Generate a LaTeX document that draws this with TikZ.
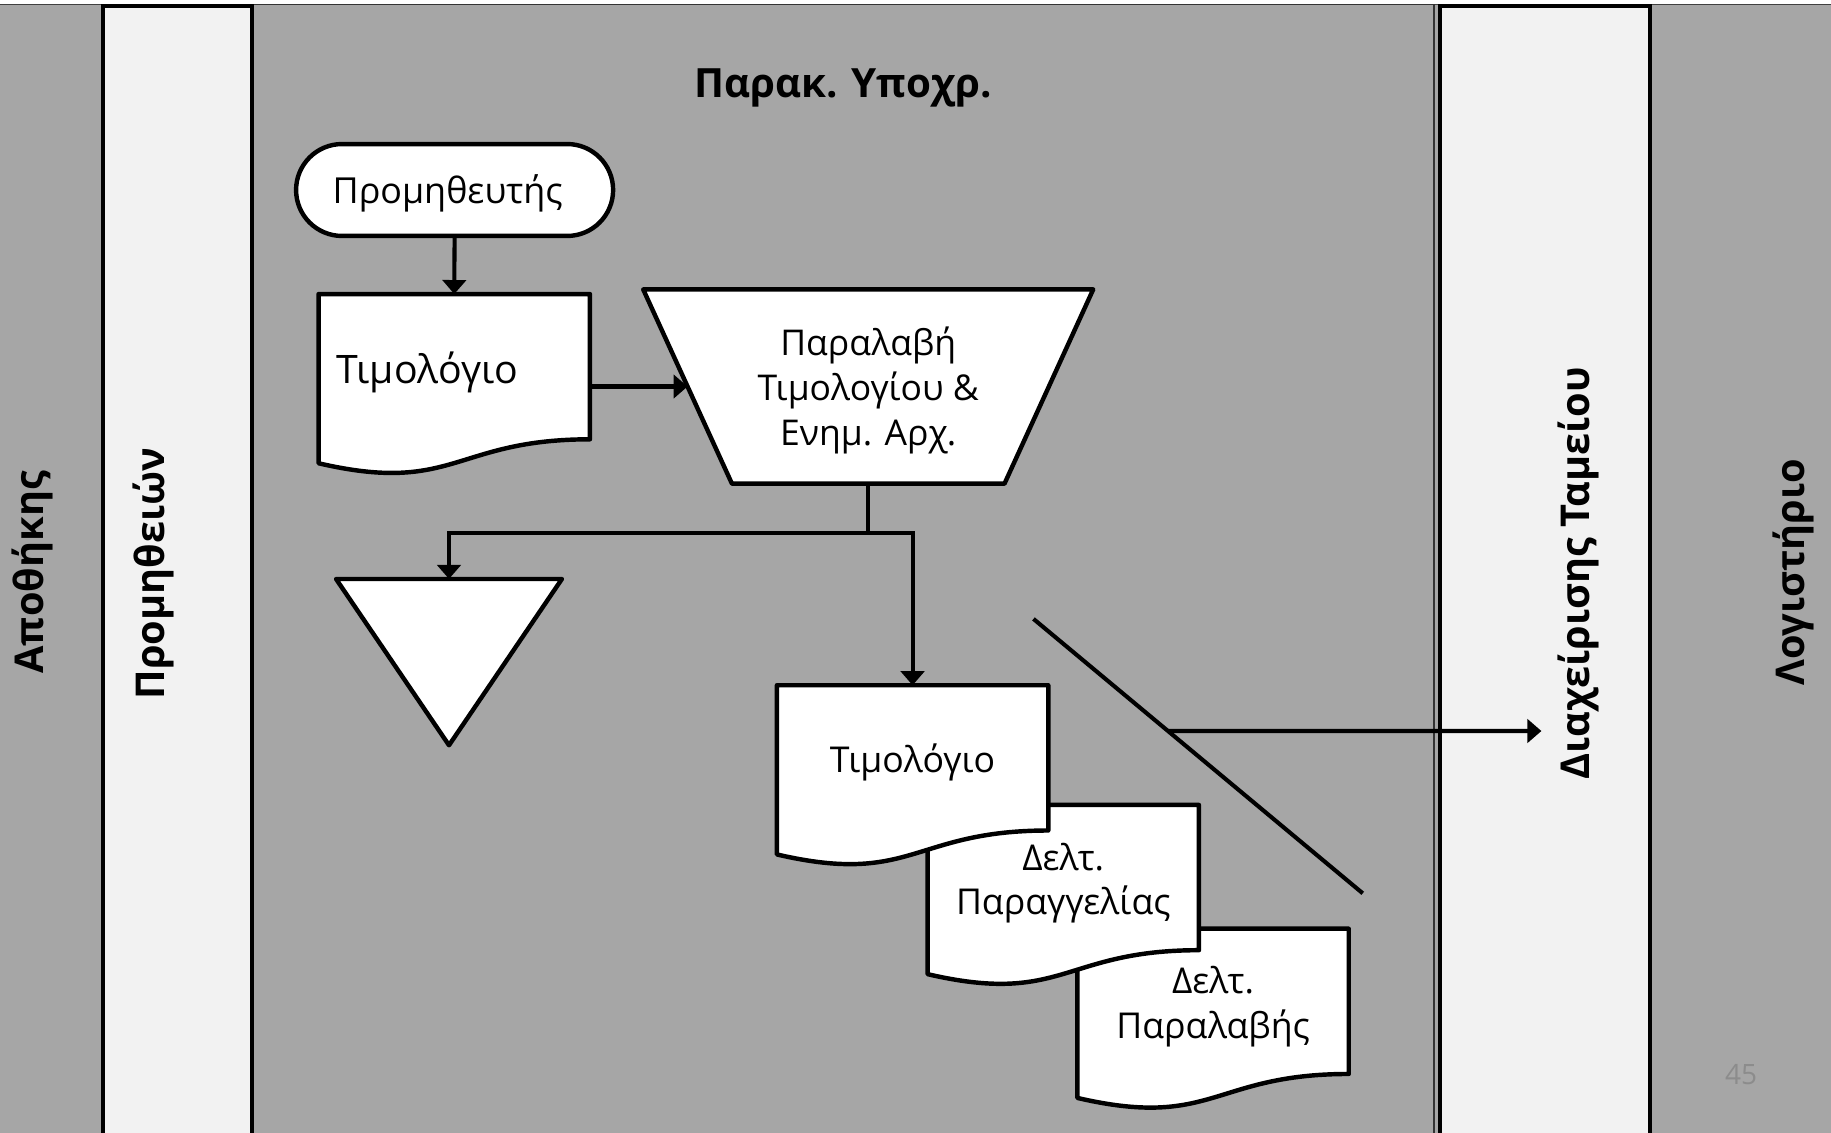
\documentclass[tikz,border=0pt]{standalone}
\usepackage{fontspec}
\setmainfont{Open Sans}
\usetikzlibrary{shapes.misc,arrows.meta,calc}
\definecolor{lanegray}{HTML}{A6A6A6}
\definecolor{lanelight}{HTML}{F2F2F2}
\definecolor{pagenum}{HTML}{8C8C8C}
\pgfdeclarelayer{lanes}
\pgfdeclarelayer{shapes}
\pgfsetlayers{lanes,shapes,main}
\newcommand{\setfs}[2]{\fontsize{#1}{#2}\selectfont}
% text block lowered by half of #1 inside its node
\newcommand{\lowtxt}[2]{\raisebox{0pt}[\dimexpr\height+#1\relax][\depth]{\begin{tabular}{@{}c@{}}#2\end{tabular}}}
\tikzset{
 shapeline/.style={draw=black, line width=3.8pt, fill=white, line join=round},
 conn/.style={draw=black, line width=3.5pt},
 arr/.style={conn, -{Triangle[width=20pt,length=12pt]}},
 docnode/.style={rectangle, inner sep=0pt, minimum width=232pt, minimum height=124pt, align=center, font=\setfs{30.5}{38}},
 lanelabel/.style={rotate=90, font=\bfseries\setfs{34}{40}},
}
\newcommand{\docoutline}[1]{%
  \filldraw[shapeline] (#1.north west) -- (#1.north east) -- (#1.south east)
   .. controls (#1.south) and ($(#1.south)+(0,47.5)$) .. ($(#1.south west)+(0,20.5)$) -- cycle;}
\begin{document}
\begin{tikzpicture}[x=1pt,y=-1pt]
\useasboundingbox (0,0) rectangle (1568,970);
\begin{pgfonlayer}{lanes}
\fill[white] (0,0) rectangle (1568,970);
\filldraw[fill=lanegray, draw=black!75, line width=0.8pt] (-5,3.8) rectangle (1575,980);
\draw[black!80, line width=0.9pt] (216.5,3.8) rectangle (1228,980);
\filldraw[fill=lanelight, draw=black, line width=3.5pt] (88.5,5) rectangle (216,980);
\filldraw[fill=lanelight, draw=black, line width=3.5pt] (1233,5) rectangle (1413,980);
\end{pgfonlayer}
% lane labels and title
\node[lanelabel] (lA) at (28,490) {Αποθήκης};
\node[lanelabel] (lB) at (131,491) {Προμηθειών};
\node[lanelabel] (lD) at (1352,491) {Διαχείρισης Ταμείου};
\node[lanelabel] (lE) at (1536,490) {Λογιστήριο};
\node[font=\bfseries\setfs{34.5}{40}] (title) at (722,75) {Παρακ. Υποχρ.};
% shapes
\node[rounded rectangle, shapeline, minimum width=271.5pt, minimum height=78.7pt, inner sep=0pt, font=\setfs{30.7}{36}] (term) at (389.3,162.7) {\lowtxt{8pt}{Προμηθευτής\hspace*{12pt}}};
\node[docnode, text width=202pt, inner xsep=15pt, align=left, font=\setfs{33.6}{40}] (doc1) at (389,314) {\lowtxt{12pt}{Τιμολόγιο}};
\node[rectangle, inner sep=0pt, minimum width=385pt, minimum height=166pt, align=center, font=\setfs{30.4}{38.5}] (trap) at (743.5,331) {\lowtxt{8pt}{Παραλαβή\\Τιμολογίου \&\\Ενημ. Αρχ.}};
\node[rectangle, inner sep=0pt, minimum width=193pt, minimum height=142pt] (tri) at (384.5,567) {};
\node[docnode] (doc2) at (781.5,649) {\lowtxt{9pt}{Τιμολόγιο}};
\node[docnode] (doc3) at (910.5,751.5) {\lowtxt{10pt}{Δελτ.\\Παραγγελίας}};
\node[docnode] (doc4) at (1038.8,857.5) {\lowtxt{10pt}{Δελτ.\\Παραλαβής}};
\begin{pgfonlayer}{shapes}
\filldraw[shapeline] (trap.north west) -- (trap.north east)
  -- ($(trap.south east)+(-76,0)$) -- ($(trap.south west)+(76,0)$) -- cycle;
\docoutline{doc1}
\docoutline{doc4}
\docoutline{doc3}
\docoutline{doc2}
\filldraw[shapeline] (tri.north west) -- (tri.north east) -- (tri.south) -- cycle;
\end{pgfonlayer}
% connectors
\draw[arr] (term.south) -- (doc1.north);
\draw[arr] (doc1.east |- trap.west) -- ($(trap.west)+(38,0)$);
\draw[arr] (trap.south) -- ++(0,42) coordinate (junc) -| (tri.north);
\draw[arr] (junc) -| (doc2.north);
\coordinate (d1) at (885,530);
\coordinate (d2) at (1167,765);
\draw[conn] (d1) -- (d2);
\coordinate (dx) at ($(d1)!0.4085!(d2)$);
\coordinate (outpt) at (1320,626);
\draw[arr] (dx) -- (outpt);
\node[text=pagenum, font=\setfs{24}{28}] (pnum) at (1491,920) {45};
\end{tikzpicture}
\end{document}
